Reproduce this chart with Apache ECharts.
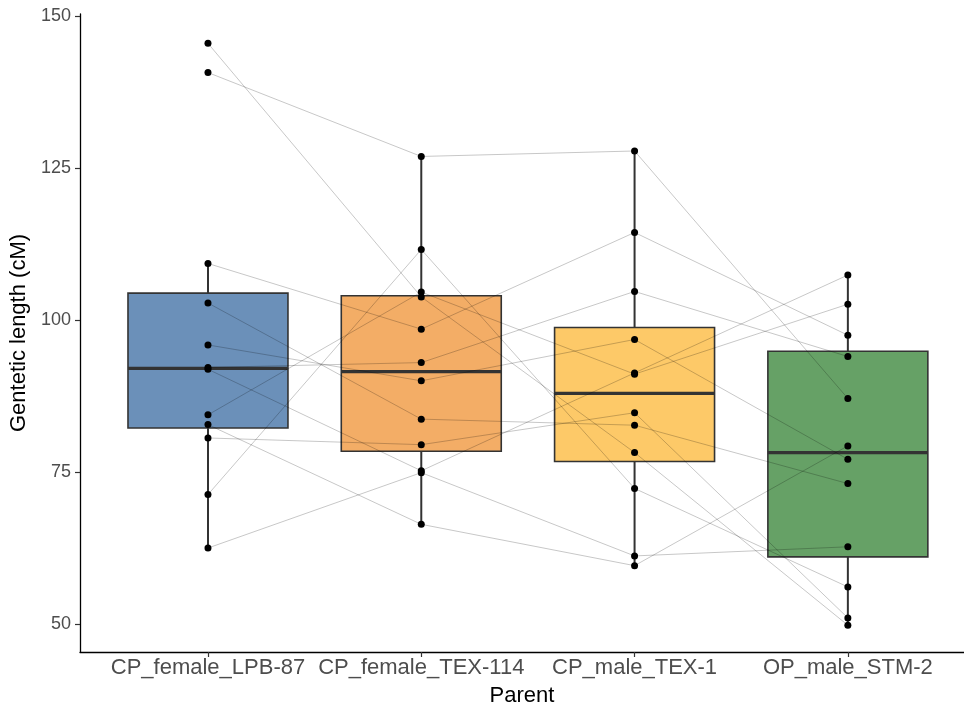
<!DOCTYPE html>
<html>
<head>
<meta charset="utf-8">
<script src="https://cdn.jsdelivr.net/npm/echarts@6/dist/echarts.min.js"></script>
<style>
  html, body { margin: 0; padding: 0; background: #ffffff; }
  #chart { width: 964px; height: 706px; }
</style>
</head>
<body>
<div id="chart"></div>
<script>
// Parents (x categories) and y-axis ticks
const parents = ['CP_female_LPB-87', 'CP_female_TEX-114', 'CP_male_TEX-1', 'OP_male_STM-2'];
const yTicks = [50, 75, 100, 125, 150];

// Genetic length (cM) per linkage group, same linkage-group order in every array
const lpb87  = [145.5, 140.7, 109.3, 102.8, 95.9, 92.2, 91.9, 84.4, 82.8, 80.6, 71.3, 62.5];
const tex114 = [103.8, 126.9, 98.5, 83.7, 90.0, 93.0, 75.2, 104.6, 66.4, 79.5, 111.6, 74.9];
const tex1   = [78.2, 127.8, 114.4, 82.7, 96.8, 104.7, 91.3, 91.1, 59.6, 84.75, 72.3, 61.2];
const stm2   = [49.8, 87.1, 97.5, 73.1, 77.1, 94.0, 107.4, 102.6, 79.3, 51.0, 56.1, 62.7];

const groups = [lpb87, tex114, tex1, stm2];
const fills = ['#6b90b9', '#f3ad66', '#fdc968', '#66a166'];

// quantile, R type 7
function quantile(sorted, p) {
  const h = (sorted.length - 1) * p;
  const lo = Math.floor(h), hi = Math.ceil(h);
  return sorted[lo] + (h - lo) * (sorted[hi] - sorted[lo]);
}
// Tukey box statistics: whiskers reach the most extreme values within 1.5 IQR
function boxStats(values) {
  const s = values.slice().sort((a, b) => a - b);
  const q1 = quantile(s, 0.25), med = quantile(s, 0.5), q3 = quantile(s, 0.75);
  const iqr = q3 - q1;
  const inside = s.filter(v => v >= q1 - 1.5 * iqr && v <= q3 + 1.5 * iqr);
  return [inside[0], q1, med, q3, inside[inside.length - 1]];
}

const boxData = groups.map((g, i) => [i + 1].concat(boxStats(g)));

const series = [];

// Boxes with whiskers
series.push({
  type: 'custom',
  z: 1,
  data: boxData,
  encode: { x: 0, y: [1, 2, 3, 4, 5] },
  renderItem: function (params, api) {
    const x = api.value(0);
    const half = api.size([0.75, 0])[0] / 2;
    const pLow = api.coord([x, api.value(1)]);
    const pQ1 = api.coord([x, api.value(2)]);
    const pMed = api.coord([x, api.value(3)]);
    const pQ3 = api.coord([x, api.value(4)]);
    const pHigh = api.coord([x, api.value(5)]);
    const edge = '#333333';
    return {
      type: 'group',
      children: [
        { type: 'line', shape: { x1: pQ3[0], y1: pQ3[1], x2: pHigh[0], y2: pHigh[1] },
          style: { stroke: edge, lineWidth: 2 } },
        { type: 'line', shape: { x1: pQ1[0], y1: pQ1[1], x2: pLow[0], y2: pLow[1] },
          style: { stroke: edge, lineWidth: 2 } },
        { type: 'rect', shape: { x: pQ3[0] - half, y: pQ3[1], width: half * 2, height: pQ1[1] - pQ3[1] },
          style: { fill: fills[params.dataIndex], stroke: edge, lineWidth: 1.6 } },
        { type: 'line', shape: { x1: pMed[0] - half, y1: pMed[1], x2: pMed[0] + half, y2: pMed[1] },
          style: { stroke: edge, lineWidth: 3.2 } }
      ]
    };
  }
});

// One thin line per linkage group joining its four parents
for (let k = 0; k < lpb87.length; k++) {
  series.push({
    type: 'line',
    z: 2,
    symbol: 'none',
    silent: true,
    data: groups.map((g, i) => [i + 1, g[k]]),
    lineStyle: { color: 'rgba(0,0,0,0.28)', width: 0.8 }
  });
}

// Individual values
series.push({
  type: 'scatter',
  z: 3,
  symbolSize: 7,
  itemStyle: { color: '#000000', opacity: 1 },
  data: groups.flatMap((g, i) => g.map(v => [i + 1, v]))
});

const chart = echarts.init(document.getElementById('chart'), null, { renderer: 'canvas' });
chart.setOption({
  animation: false,
  backgroundColor: '#ffffff',
  textStyle: { fontFamily: 'Liberation Sans, Arial, sans-serif' },
  grid: { left: 80, top: 14, width: 884, height: 638, containLabel: false, outerBoundsMode: 'none' },
  xAxis: {
    type: 'value',
    min: 0.4,
    max: 4.5445,
    name: 'Parent',
    nameLocation: 'middle',
    nameGap: 33,
    nameTextStyle: { color: '#000000', fontSize: 22, fontFamily: 'Liberation Sans' },
    axisLine: { show: true, onZero: false, lineStyle: { color: '#000000', width: 1.3 } },
    axisTick: { show: true, length: 5, customValues: [1, 2, 3, 4], lineStyle: { color: '#333333', width: 1.2 } },
    axisLabel: {
      customValues: [1, 2, 3, 4],
      formatter: v => parents[Math.round(v) - 1],
      color: '#4d4d4d', fontSize: 22, margin: 5, fontFamily: 'Liberation Sans'
    },
    splitLine: { show: false }
  },
  yAxis: {
    type: 'value',
    min: 45.4,
    max: 150.33,
    name: 'Gentetic length (cM)',
    nameLocation: 'middle',
    nameGap: 46,
    nameRotate: 90,
    nameTextStyle: { color: '#000000', fontSize: 22, fontFamily: 'Liberation Sans' },
    axisLine: { show: true, onZero: false, lineStyle: { color: '#000000', width: 1.3 } },
    axisTick: { show: true, length: 5, customValues: yTicks, lineStyle: { color: '#333333', width: 1.2 } },
    axisLabel: {
      customValues: yTicks,
      color: '#4d4d4d', fontSize: 18, margin: 9, fontFamily: 'Liberation Sans'
    },
    splitLine: { show: false }
  },
  series: series
});
</script>
</body>
</html>
